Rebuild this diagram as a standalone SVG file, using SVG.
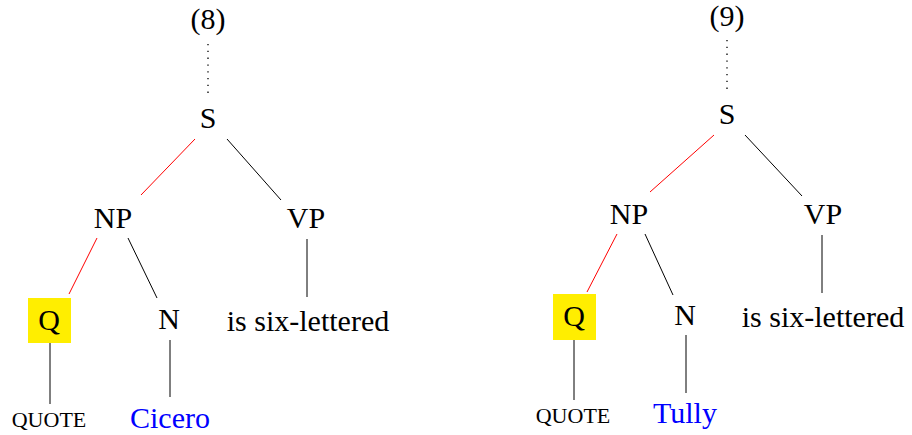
<svg xmlns="http://www.w3.org/2000/svg" width="912" height="435" viewBox="0 0 912 435">
<style>
text{font-family:"Liberation Serif","DejaVu Serif",serif;font-size:30px;fill:#000;text-anchor:middle}
.blue{fill:#0000ff}
.sc{font-variant:small-caps;font-size:31px}
.e{stroke:#000;stroke-width:1}
.r{stroke:#ff0000;stroke-width:1}
.d{stroke:#000;stroke-width:1.3;stroke-dasharray:1.3 5.5}
.hl{fill:#ffee00}
</style>
<g id="connectors" fill="none">
<line class="d" x1="208" y1="44" x2="208" y2="98"/>
<line class="r" x1="195" y1="139" x2="141" y2="195"/>
<line class="e" x1="227" y1="139" x2="281" y2="200"/>
<line class="r" x1="97" y1="238" x2="69" y2="294"/>
<line class="e" x1="128" y1="238" x2="157" y2="298"/>
<line class="e" x1="307" y1="239" x2="307" y2="297"/>
<line class="e" x1="50" y1="343" x2="50" y2="404"/>
<line class="e" x1="170" y1="340" x2="170" y2="397"/>
<line class="d" x1="727" y1="40" x2="727" y2="94"/>
<line class="r" x1="714" y1="135" x2="650" y2="192"/>
<line class="e" x1="745" y1="135" x2="802" y2="196"/>
<line class="r" x1="617" y1="234" x2="587" y2="292"/>
<line class="e" x1="645" y1="234" x2="673" y2="295"/>
<line class="e" x1="822" y1="235" x2="822" y2="293"/>
<line class="e" x1="574" y1="340" x2="574" y2="400"/>
<line class="e" x1="686" y1="335" x2="686" y2="393"/>
</g>
<g id="t8-label"><text x="208" y="29">(8)</text></g>
<g id="t8-S"><text x="208" y="128">S</text></g>
<g id="t8-NP"><text x="113" y="228">NP</text></g>
<g id="t8-VP"><text x="306" y="228">VP</text></g>
<g id="t8-Q"><rect class="hl" x="28" y="298" width="43" height="45"/><text x="49" y="330">Q</text></g>
<g id="t8-N"><text x="169" y="329">N</text></g>
<g id="t8-is"><text x="308" y="331">is six-lettered</text></g>
<g id="t8-quote"><text class="sc" x="49" y="427">quote</text></g>
<g id="t8-cicero"><text class="blue" x="170" y="428">Cicero</text></g>
<g id="t9-label"><text x="727" y="26">(9)</text></g>
<g id="t9-S"><text x="727" y="124">S</text></g>
<g id="t9-NP"><text x="629" y="224">NP</text></g>
<g id="t9-VP"><text x="823" y="224">VP</text></g>
<g id="t9-Q"><rect class="hl" x="553" y="294" width="43" height="46"/><text x="574" y="326">Q</text></g>
<g id="t9-N"><text x="685" y="325">N</text></g>
<g id="t9-is"><text x="823" y="327">is six-lettered</text></g>
<g id="t9-quote"><text class="sc" x="573" y="423">quote</text></g>
<g id="t9-tully"><text class="blue" x="685" y="423">Tully</text></g>
</svg>
